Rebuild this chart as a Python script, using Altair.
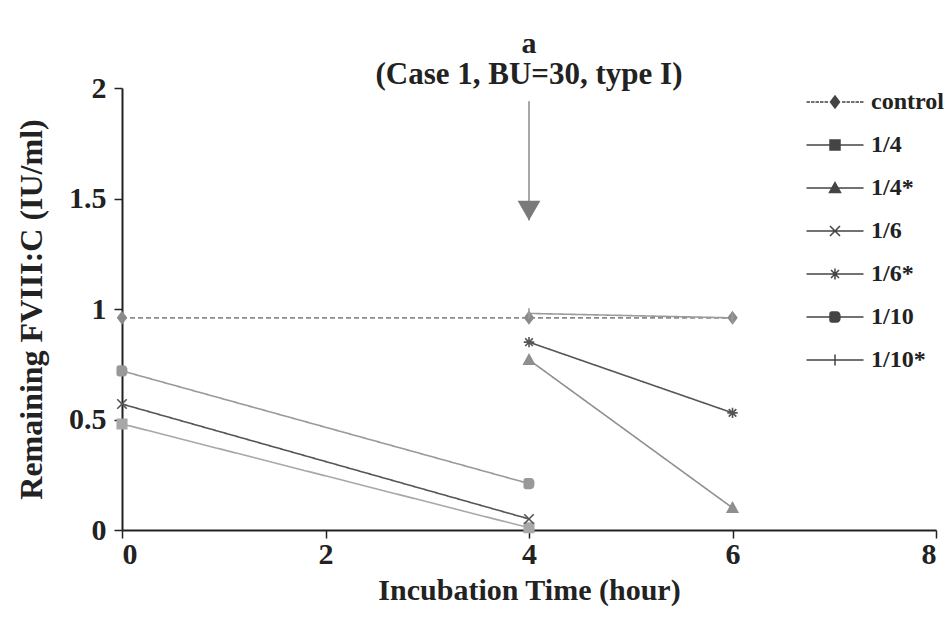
import altair as alt
import pandas as pd

# ---- data ----
series = ["control", "1/4", "1/4*", "1/6", "1/6*", "1/10", "1/10*"]
ctrl_x = [0, 4, 6];   ctrl_y = [0.96, 0.96, 0.96]
q4_x = [0, 4];        q4_y = [0.48, 0.01]
q4s_x = [4, 6];       q4s_y = [0.77, 0.10]
q6_x = [0, 4];        q6_y = [0.57, 0.05]
q6s_x = [4, 6];       q6s_y = [0.85, 0.53]
q10_x = [0, 4];       q10_y = [0.72, 0.21]
q10s_x = [4, 6];      q10s_y = [0.98, 0.96]

arrow_x = [4]
arrow_top = [1.94]
arrow_tip = [1.40]

x_ticks = [0, 2, 4, 6, 8]
y_ticks = [0, 0.5, 1, 1.5, 2]

colors = ["#8a8a8a", "#a8a8a8", "#8f8f8f", "#555555", "#555555", "#999999", "#9a9a9a"]
dashes = [[5, 3], [1, 0], [1, 0], [1, 0], [1, 0], [1, 0], [1, 0]]

diamond = "M0,-1.2L0.9,0L0,1.2L-0.9,0Z"
square = "M-1,-1H1V1H-1Z"
tri = "M0,-1.1L1.1,0.9H-1.1Z"
xmark = "M-1,-1L1,1M-1,1L1,-1"
star = "M-1.1,0H1.1M0,-1.1V1.1M-0.8,-0.8L0.8,0.8M-0.8,0.8L0.8,-0.8"
rsq = "M-0.6,-1H0.3Q1,-1 1,0Q1,1 0.3,1H-0.6Q-1,1 -1,0.6V-0.6Q-1,-1 -0.6,-1Z"
plus = "M0,-1.1V1.1M-0.3,0H0.3"
none = "M0,0Z"
shapes = [diamond, square, tri, xmark, star, rsq, plus]
fill_parts = [diamond, square, tri, none, none, rsq, none]

def leg(marker, dashed=False):
    if dashed:
        line = "".join(f"M{a},0H{a+0.7}" for a in [-5.7, -4.8, -3.9, -3.0, -2.1, 1.4, 2.3, 3.2, 4.1, 5.0])
    else:
        line = "M-5.7,0H5.7"
    return line + marker

legend_paths = [leg(diamond, True), leg(square), leg(tri), leg(xmark), leg(star), leg(rsq), leg(plus)]

rows = []
for name, xs, ys in [("control", ctrl_x, ctrl_y), ("1/4", q4_x, q4_y), ("1/4*", q4s_x, q4s_y),
                     ("1/6", q6_x, q6_y), ("1/6*", q6s_x, q6s_y), ("1/10", q10_x, q10_y),
                     ("1/10*", q10s_x, q10s_y)]:
    for x, y in zip(xs, ys):
        rows.append({"series": name, "legend_name": name, "legend_fill": name, "t": x, "v": y})
df = pd.DataFrame(rows)

arrow_df = pd.DataFrame({"t": arrow_x, "top": arrow_top, "tip": arrow_tip})

FONT = "Liberation Serif"

xs = alt.X("t:Q", scale=alt.Scale(domain=[0, 8], nice=False),
           axis=alt.Axis(values=x_ticks, title="Incubation Time (hour)", format="d"))
ys = alt.Y("v:Q", scale=alt.Scale(domain=[0, 2], nice=False),
           axis=alt.Axis(values=y_ticks, title="Remaining FVIII:C (IU/ml)", labelExpr="datum.value + ''",
                         titleFontSize=32))

col = alt.Scale(domain=series, range=colors)

lines = alt.Chart(df).mark_line(strokeWidth=1.6).encode(
    x=xs, y=ys,
    color=alt.Color("series:N", scale=col, legend=None),
    strokeDash=alt.StrokeDash("series:N", scale=alt.Scale(domain=series, range=dashes), legend=None),
    detail="series:N",
)

points = alt.Chart(df).mark_point(filled=True, size=90, strokeWidth=1.6, opacity=1).encode(
    x=xs, y=ys,
    shape=alt.Shape("series:N", scale=alt.Scale(domain=series, range=shapes), legend=None),
    fill=alt.Fill("series:N", scale=col, legend=None),
    stroke=alt.Stroke("series:N", scale=col, legend=None),
)

LEGX, LEGY = 701, 2
leg_common = dict(title=None, orient="none", legendX=LEGX, legendY=LEGY, symbolSize=100,
                  symbolOpacity=1, labelFont=FONT, labelFontSize=24, labelFontWeight="bold",
                  labelOffset=24, rowPadding=19, padding=0)

# legend-only layers: no rows survive the filter; legends come from the fixed domains
legend_stroke = alt.Chart(df).transform_filter("false").mark_point(
    size=100, filled=False, stroke="#444444", strokeWidth=1.5, opacity=1
).encode(
    x=xs, y=ys,
    shape=alt.Shape("legend_name:N", scale=alt.Scale(domain=series, range=legend_paths),
                    legend=alt.Legend(symbolStrokeColor="#444444", symbolStrokeWidth=1.5,
                                      labelColor="#222222", **leg_common)),
)
legend_fill = alt.Chart(df).transform_filter("false").mark_point(
    size=100, filled=True, fill="#444444", opacity=1
).encode(
    x=xs, y=ys,
    shape=alt.Shape("legend_fill:N", scale=alt.Scale(domain=series, range=fill_parts),
                    legend=alt.Legend(symbolFillColor="#444444",
                                      labelColor="rgba(0,0,0,0)", **leg_common)),
)

arrow_line = alt.Chart(arrow_df).mark_rule(color="#8a8a8a", strokeWidth=1.5).encode(
    x="t:Q", y="top:Q", y2="tip:Q")
arrow_head = alt.Chart(arrow_df).mark_point(shape="triangle-down", filled=True, size=520,
                                            color="#7a7a7a", opacity=1).encode(
    x="t:Q", y=alt.Y("tip:Q"), yOffset=alt.value(-10))

chart = alt.layer(lines, points, arrow_line, arrow_head, legend_stroke, legend_fill).resolve_scale(
    shape="independent"
).properties(
    width=814, height=442,
    autosize=alt.AutoSizeParams(type="none"),
    padding={"left": 122, "top": 88, "right": 11, "bottom": 108},
    title=alt.TitleParams("a", subtitle="(Case 1, BU=30, type I)", font=FONT, fontSize=30,
                          fontWeight="bold", subtitleFont=FONT, subtitleFontSize=31,
                          subtitleFontWeight="bold", color="#222222", subtitleColor="#222222",
                          anchor="middle", offset=-17, subtitlePadding=1),
).configure_view(stroke=None).configure_axis(
    grid=False, domainColor="#222222", domainWidth=2, tickColor="#222222", tickWidth=1.5,
    tickSize=8, labelFont=FONT, labelFontSize=30, labelFontWeight="bold", labelColor="#222222",
    titleFont=FONT, titleFontSize=30, titleFontWeight="bold", titleColor="#222222",
).configure_axisX(labelPadding=1, titlePadding=6).configure_axisY(labelPadding=8, titlePadding=20)

chart.save("out.html", embed_options={"renderer": "svg", "actions": False})
